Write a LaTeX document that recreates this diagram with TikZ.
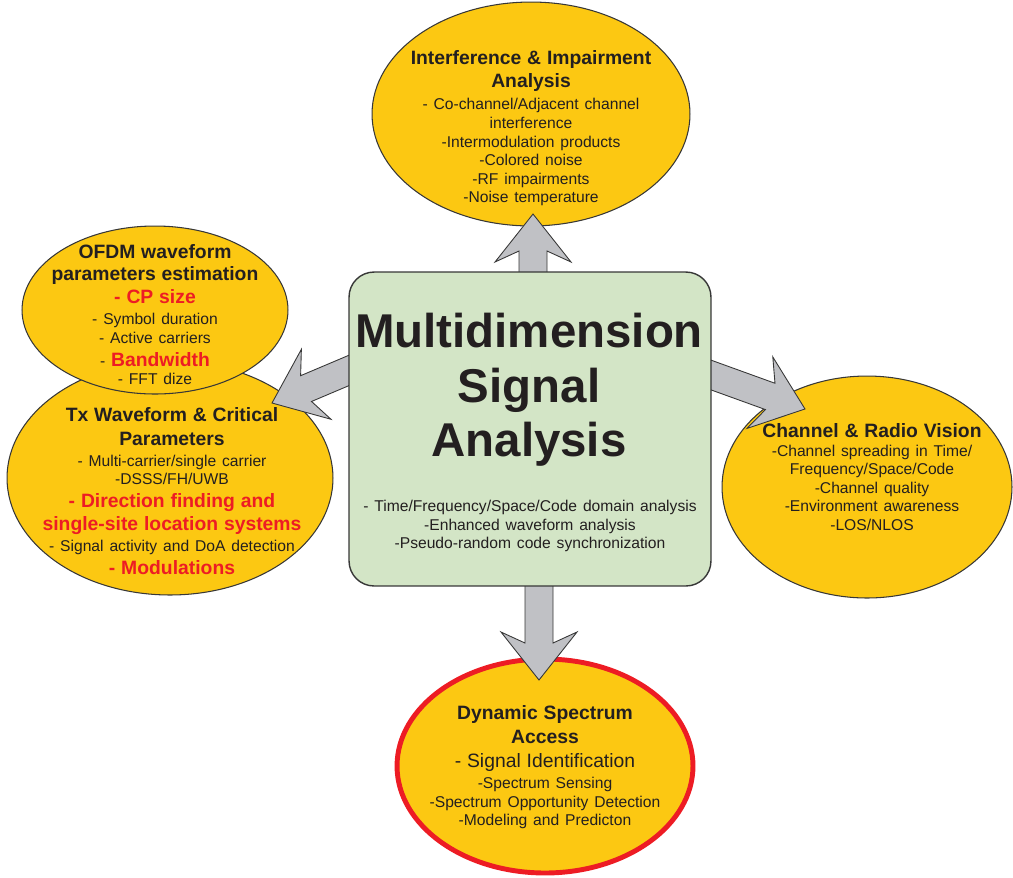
\documentclass[tikz,border=0pt]{standalone}
\usepackage{fontspec}
\setmainfont{Liberation Sans}
\usetikzlibrary{positioning}
\usetikzlibrary{calc}
\usetikzlibrary{shapes}

\definecolor{bubbleyellow}{RGB}{252,200,18}
\definecolor{panelgreen}{RGB}{211,229,198}
\definecolor{arrowgray}{RGB}{192,193,197}
\definecolor{linegray}{RGB}{55,55,55}
\definecolor{alertred}{RGB}{237,28,36}
\definecolor{textdark}{RGB}{35,31,32}

\newcommand{\hd}{\fontsize{11}{13}\selectfont\bfseries}
\newcommand{\bd}{\fontsize{8.9}{10.6}\selectfont\mdseries}
\newcommand{\rd}{\color{alertred}}
% fat block arrow from #1 to #2
\newcommand{\fatarrow}[2]{%
  \coordinate (j) at ($(#2)!0.74cm!(#1)$);
  \coordinate (c) at ($(#2)!0.96cm!(#1)$);
  \draw[fatline] ($(#1)!0.28cm!90:(#2)$) -- ($(j)!0.28cm!90:(#2)$) -- ($(c)!0.76cm!90:(#2)$) -- (#2)
    -- ($(c)!0.76cm!-90:(#2)$) -- ($(j)!0.28cm!-90:(#2)$) -- ($(#1)!0.28cm!-90:(#2)$) -- cycle;}

\tikzset{
  bubble/.style={ellipse, draw=linegray, fill=bubbleyellow, line width=0.6pt},
  fatline/.style={draw=linegray, fill=arrowgray, line width=0.5pt, line join=miter},
  panel/.style={rectangle, rounded corners=0.5cm, draw=linegray, fill=panelgreen, line width=0.8pt},
  txt/.style={text width=7.5cm, align=center, text=textdark, inner sep=0pt},
}

\begin{document}
\begin{tikzpicture}[x=0.02cm, y=-0.02cm]
			\useasboundingbox (0,0) rectangle (1013,877);
			%\draw[step=50,gray,very thin] (0,0) grid (1013,877);
			\node[bubble, minimum width=6.52cm, minimum height=4.68cm] (tx) at (170,478) {};
			\node[bubble, minimum width=5.32cm, minimum height=3.36cm] (ofdm) at (155,310) {};
			\node[bubble, minimum width=6.36cm, minimum height=4.48cm] (interf) at (531,114) {};
			\node[bubble, minimum width=5.8cm, minimum height=4.44cm] (chan) at (867,487) {};
			\node[bubble, draw=alertred, line width=2.8pt, minimum width=5.92cm, minimum height=4.28cm] (dsa) at (545,766) {};

			\coordinate (up0) at (533,300);
			\coordinate (up1) at (533,214);
			\coordinate (dn0) at (539,560);
			\coordinate (dn1) at (539,680);
			\coordinate (lf0) at (370,361.5);
			\coordinate (lf1) at (272,403);
			\coordinate (rt0) at (690,367.4);
			\coordinate (rt1) at (805,409);
			\fatarrow{up0}{up1}
			\fatarrow{dn0}{dn1}
			\fatarrow{lf0}{lf1}
			\fatarrow{rt0}{rt1}

			\node[panel, minimum width=7.24cm, minimum height=6.28cm] (core) at (530,429) {};

			\node[txt] (interf-txt) at (531,128.5) {{\hd Interference \& Impairment\\Analysis\par}\vspace{2pt}
				{\bd - Co-channel/Adjacent channel\\interference\\-Intermodulation products\\-Colored noise\\-RF impairments\\-Noise temperature\par}};
			\node[txt] (ofdm-txt) at (155,314.5) {{\hd OFDM waveform\\parameters estimation\\{\rd - CP size}\par}\vspace{1.4pt}
				{\bd - Symbol duration\\- Active carriers\par}
				{\hd {\bd - }{\rd Bandwidth}\par}
				{\bd - FFT dize\par}};
			\node[txt] (tx-txt) at (172,491) {{\hd\baselineskip=14pt Tx Waveform \& Critical\\Parameters\par}\vspace{1pt}
				{\bd - Multi-carrier/single carrier\\-DSSS/FH/UWB\par}
				{\hd\rd - Direction finding and\\single-site location systems\par}\vspace{1.4pt}
				{\bd - Signal activity and DoA detection\par}
				{\hd\rd - Modulations\par}};
			\node[txt] (chan-txt) at (872,477) {{\hd Channel \& Radio Vision\par}
				{\bd -Channel spreading in Time/\\Frequency/Space/Code\\-Channel quality\\-Environment awareness\\-LOS/NLOS\par}};
			\node[txt] (dsa-txt) at (545,767.5) {{\hd\baselineskip=13.5pt Dynamic Spectrum\\Access\par}
				{\fontsize{11}{13.5}\selectfont - Signal Identification\par}\vspace{1.5pt}
				{\bd -Spectrum Sensing\\-Spectrum Opportunity Detection\\-Modeling and Predicton\par}};
			\node[txt] (core-title) at (529,390) {\fontsize{27}{31}\selectfont\bfseries Multidimension\\Signal\\Analysis\par};
			\node[txt] (core-txt) at (530,526) {\bd - Time/Frequency/Space/Code domain analysis\\-Enhanced waveform analysis\\-Pseudo-random code synchronization\par};
		\end{tikzpicture}
\end{document}
